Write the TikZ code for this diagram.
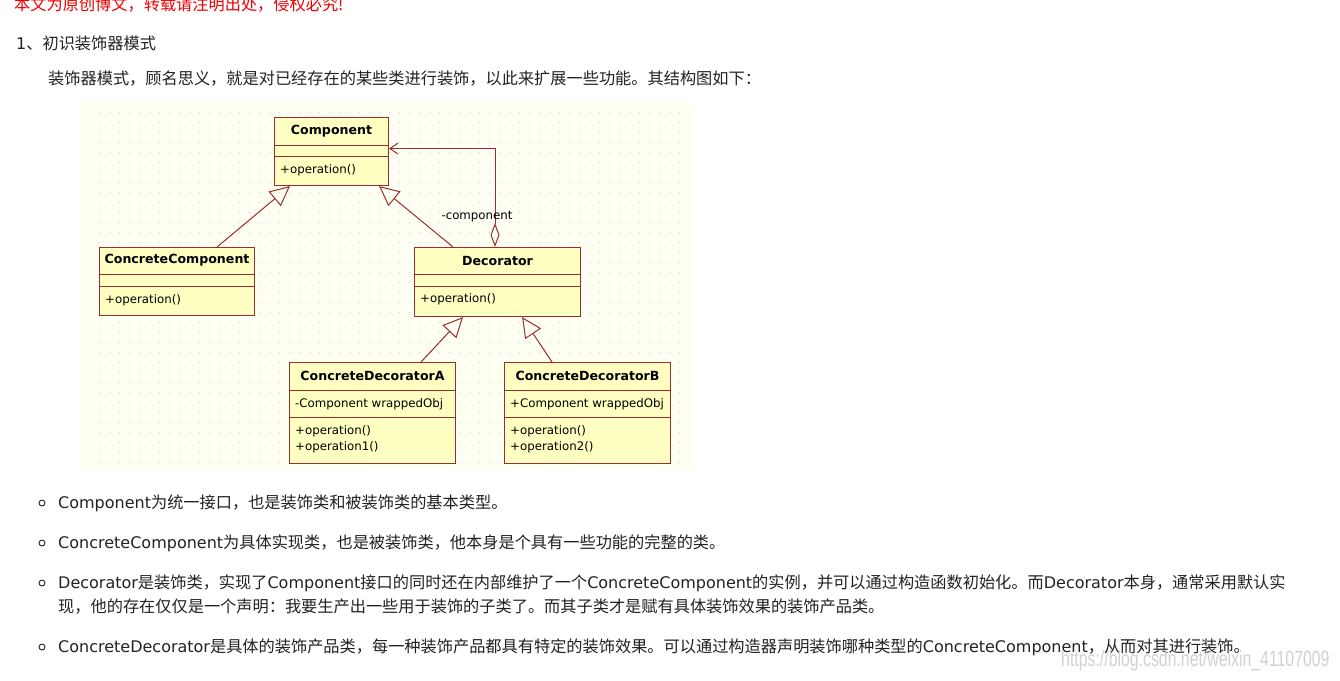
\documentclass[tikz,border=0pt]{standalone}
\usepackage{fontspec}
\usepackage{graphicx}
\setmainfont{DejaVu Sans}
\newfontfamily\cjk{Noto Sans CJK SC}
\newfontfamily\wmfont{Liberation Sans}
\usetikzlibrary{arrows.meta}

\definecolor{umlred}{HTML}{9A2E2E}
\definecolor{umlfill}{HTML}{FFFFC2}
\definecolor{paper}{HTML}{FFFFF3}
\definecolor{griddot}{HTML}{D0D0D0}
\definecolor{bodytext}{HTML}{222222}
\definecolor{notered}{HTML}{F00000}

\newcommand{\zh}[1]{{\cjk\fontsize{16.2}{19}\selectfont #1}}

\tikzset{
  page/.style={anchor=west,inner sep=0pt,text=bodytext,font=\fontsize{16}{19}\selectfont},
  umlbox/.style={draw=umlred,fill=umlfill,line width=1.1pt,anchor=north west,inner sep=0pt},
  umltitle/.style={inner sep=0pt,font=\bfseries\fontsize{12.6}{15}\selectfont},
  umlmember/.style={anchor=west,inner sep=0pt,align=left,font=\fontsize{11.8}{15.5}\selectfont},
  umlline/.style={draw=umlred,line width=1pt},
  inherit/.style={umlline,-{Triangle[open,length=20pt,width=19pt]}},
  bullet/.style={draw=bodytext,line width=0.9pt,circle,inner sep=0pt,minimum size=6pt},
}

\begin{document}
\begin{tikzpicture}[x=1pt,y=-1pt]

\useasboundingbox (0,0) rectangle (1340,680);
\fill[white] (0,0) rectangle (1340,680);

% Page text
\node[page,text=notered] (notice) at (14,5) {\zh{本文为原创博文，转载请注明出处，侵权必究!}};
\node[page] (heading) at (16,43) {1\zh{、初识装饰器模式}};
\node[page] (intro) at (48,79) {\zh{装饰器模式，顾名思义，就是对已经存在的某些类进行装饰，以此来扩展一些功能。其结构图如下：}};

% Diagram background
\fill[paper] (80,100) rectangle (692,470);
\foreach \gx in {99,109,...,679}
  \foreach \gy in {112,122,...,462}
    \fill[griddot] (\gx,\gy) rectangle ++(1.3,1.3);

% Component
\node[umlbox,minimum width=114pt,minimum height=68pt] (comp) at (274,117) {};
\draw[umlline] ([yshift=-28pt]comp.north west) -- ([yshift=-28pt]comp.north east);
\draw[umlline] ([yshift=-39pt]comp.north west) -- ([yshift=-39pt]comp.north east);
\node[umltitle] (comp-t) at ([yshift=-14pt]comp.north) {Component};
\node[umlmember] (comp-o) at ([xshift=6pt,yshift=-53pt]comp.north west) {+operation()};

% ConcreteComponent
\node[umlbox,minimum width=155pt,minimum height=68pt] (ccomp) at (99,247) {};
\draw[umlline] ([yshift=-27pt]ccomp.north west) -- ([yshift=-27pt]ccomp.north east);
\draw[umlline] ([yshift=-39pt]ccomp.north west) -- ([yshift=-39pt]ccomp.north east);
\node[umltitle] (ccomp-t) at ([yshift=-13.5pt]ccomp.north) {ConcreteComponent};
\node[umlmember] (ccomp-o) at ([xshift=6pt,yshift=-53pt]ccomp.north west) {+operation()};

% Decorator
\node[umlbox,minimum width=166pt,minimum height=69pt] (dec) at (414,247) {};
\draw[umlline] ([yshift=-27pt]dec.north west) -- ([yshift=-27pt]dec.north east);
\draw[umlline] ([yshift=-39pt]dec.north west) -- ([yshift=-39pt]dec.north east);
\node[umltitle] (dec-t) at ([yshift=-13.5pt]dec.north) {Decorator};
\node[umlmember] (dec-o) at ([xshift=6pt,yshift=-52pt]dec.north west) {+operation()};

% ConcreteDecoratorA
\node[umlbox,minimum width=166pt,minimum height=101pt] (deca) at (289,362) {};
\draw[umlline] ([yshift=-28pt]deca.north west) -- ([yshift=-28pt]deca.north east);
\draw[umlline] ([yshift=-55pt]deca.north west) -- ([yshift=-55pt]deca.north east);
\node[umltitle] (deca-t) at ([yshift=-14pt]deca.north) {ConcreteDecoratorA};
\node[umlmember] (deca-a) at ([xshift=6pt,yshift=-42pt]deca.north west) {-Component wrappedObj};
\node[umlmember] (deca-o) at ([xshift=6pt,yshift=-77pt]deca.north west) {+operation()\\+operation1()};

% ConcreteDecoratorB
\node[umlbox,minimum width=166pt,minimum height=101pt] (decb) at (504,362) {};
\draw[umlline] ([yshift=-28pt]decb.north west) -- ([yshift=-28pt]decb.north east);
\draw[umlline] ([yshift=-55pt]decb.north west) -- ([yshift=-55pt]decb.north east);
\node[umltitle] (decb-t) at ([yshift=-14pt]decb.north) {ConcreteDecoratorB};
\node[umlmember] (decb-a) at ([xshift=6pt,yshift=-42pt]decb.north west) {+Component wrappedObj};
\node[umlmember] (decb-o) at ([xshift=6pt,yshift=-77pt]decb.north west) {+operation()\\+operation2()};

% Generalizations
\draw[inherit] ([xshift=118pt]ccomp.north west) -- ([xshift=16pt]comp.south west);
\draw[inherit] ([xshift=39pt]dec.north west) -- ([xshift=-10pt]comp.south east);
\draw[inherit] ([xshift=132pt]deca.north west) -- ([xshift=49pt]dec.south west);
\draw[inherit] ([xshift=48pt]decb.north west) -- ([xshift=-59pt]dec.south east);

% Aggregation
\draw[umlline,{Diamond[open,length=24pt,width=9pt]}-{Straight Barb[length=8pt,width=11pt]}]
  ([xshift=81pt]dec.north west) |- ([yshift=3pt]comp.east);
\node[umlmember,anchor=center] (agg-l) at (477,217) {-component};

% Bullet list
\node[bullet] (b1) at (42,503) {};
\node[bullet] (b2) at (42,543) {};
\node[bullet] (b3) at (42,583) {};
\node[bullet] (b4) at (42,647) {};

\node[page] (t1) at (58,503) {Component\zh{为统一接口，也是装饰类和被装饰类的基本类型。}};
\node[page] (t2) at (58,543) {ConcreteComponent\zh{为具体实现类，也是被装饰类，他本身是个具有一些功能的完整的类。}};
\node[page] (t3) at (58,583) {Decorator\zh{是装饰类，实现了}Component\zh{接口的同时还在内部维护了一个}ConcreteComponent\zh{的实例，并可以通过构造函数初始化。而}Decorator\zh{本身，通常采用默认实}};
\node[page] (t3b) at (58,607) {\zh{现，他的存在仅仅是一个声明：我要生产出一些用于装饰的子类了。而其子类才是赋有具体装饰效果的装饰产品类。}};
\node[page] (t4) at (58,647) {ConcreteDecorator\zh{是具体的装饰产品类，每一种装饰产品都具有特定的装饰效果。可以通过构造器声明装饰哪种类型的}ConcreteComponent\zh{，从而对其进行装饰。}};

% Watermark
\node[anchor=west,inner sep=0pt,text=black!18,font=\wmfont\fontsize{22}{26}\selectfont] (wm) at (1061,661)
  {\scalebox{0.72}[1]{https://blog.csdn.net/weixin\_41107009}};

\end{tikzpicture}
\end{document}
